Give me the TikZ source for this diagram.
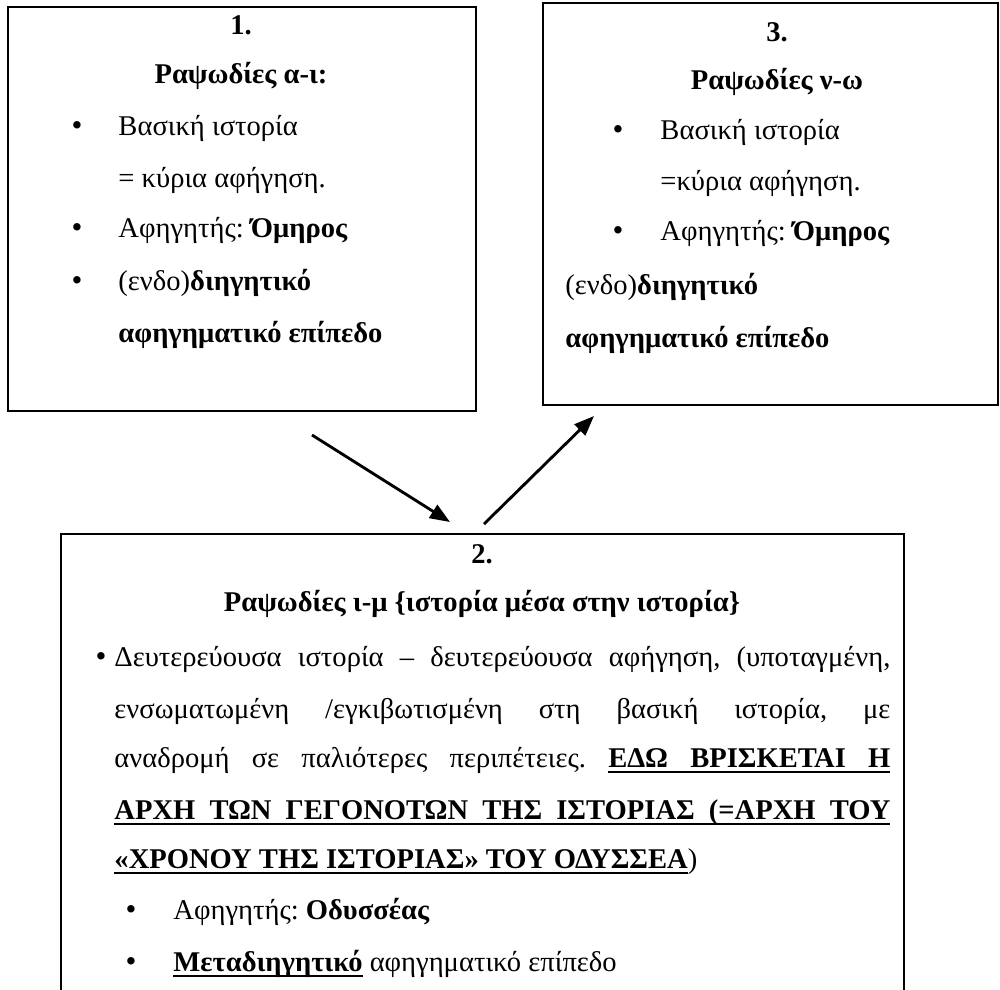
\documentclass[tikz,border=0pt]{standalone}
\usepackage{fontspec}
\setmainfont{Liberation Serif}
\usetikzlibrary{arrows.meta,positioning,fit}
\frenchspacing
% underlined word and underlined (stretchable) space
\newcommand{\ulw}[1]{\setbox0\hbox{#1}\rlap{\rule[-2.6pt]{\wd0}{1pt}}\box0}
\newcommand{\usp}{\leaders\hrule height -1.6pt depth 2.6pt\hskip 3pt plus 1.5pt minus 1pt\relax}

\begin{document}
\begin{tikzpicture}[x=0.42pt,y=-0.42pt,
  frame/.style={draw,inner sep=0pt},
  txt/.style={anchor=base west,inner sep=0pt,font=\fontsize{12}{21}\selectfont},
  ttl/.style={anchor=base,inner sep=0pt,font=\fontsize{12}{21}\selectfont\bfseries},
  dot/.style={anchor=base,inner sep=0pt,font=\fontsize{13}{21}\selectfont},
  arr/.style={-{Triangle[length=8.4pt,width=6.4pt]},line width=1.2pt}]
\useasboundingbox (0,0) rectangle (1000,989);
% the three boxes
\node[frame,line width=1.1pt,fit={(8,7) (476,411)}] (b1) {};
\node[frame,line width=0.8pt,fit={(543,3) (998,405)}] (b3) {};
\node[frame,line width=1pt,fit={(61,534) (904,1000)}] (b2) {};
% box 1
\node[ttl] (n1) at (241,34) {1.};
\node[ttl] (t1) at (241,83) {Ραψωδίες α-ι:};
\node[dot] (d11) at (77,135) {•};
\node[txt] (a11) at (118,135) {Βασική ιστορία};
\node[txt] (a12) at (118,187) {= κύρια αφήγηση.};
\node[dot] (d12) at (77,237) {•};
\node[txt] (a13) at (118,237) {Αφηγητής: \textbf{Όμηρος}};
\node[dot] (d13) at (77,290) {•};
\node[txt] (a14) at (118,290) {(ενδο)\textbf{διηγητικό}};
\node[txt] (a15) at (118,342) {\textbf{αφηγηματικό επίπεδο}};
% box 3
\node[ttl] (n3) at (777,41) {3.};
\node[ttl] (t3) at (777,89) {Ραψωδίες ν-ω};
\node[dot] (d31) at (618,139) {•};
\node[txt] (c11) at (660,139) {Βασική ιστορία};
\node[txt] (c12) at (660,190) {=κύρια αφήγηση.};
\node[dot] (d32) at (618,240) {•};
\node[txt] (c13) at (660,240) {Αφηγητής: \textbf{Όμηρος}};
\node[txt] (c14) at (565,294) {(ενδο)\textbf{διηγητικό}};
\node[txt] (c15) at (565,347) {\textbf{αφηγηματικό επίπεδο}};
% box 2
\node[ttl] (n2) at (482,563) {2.};
\node[ttl] (t2) at (482,611) {Ραψωδίες ι-μ \{ιστορία μέσα στην ιστορία\}};
\node[dot] (d21) at (101,666) {•};
\node[txt] (b21) at (114,666) {\makebox[325.9pt][s]{Δευτερεύουσα ιστορία – δευτερεύουσα αφήγηση, (υποταγμένη,}};
\node[txt] (b22) at (114,718) {\makebox[325.9pt][s]{ενσωματωμένη /εγκιβωτισμένη στη βασική ιστορία, με}};
\node[txt] (b23) at (114,767) {\makebox[325.9pt][s]{αναδρομή σε παλιότερες περιπέτειες. \textbf{\ulw{ΕΔΩ}\usp\ulw{ΒΡΙΣΚΕΤΑΙ}\usp\ulw{Η}}}};
\node[txt] (b24) at (114,819) {\makebox[325.9pt][s]{\bfseries\ulw{ΑΡΧΗ}\usp\ulw{ΤΩΝ}\usp\ulw{ΓΕΓΟΝΟΤΩΝ}\usp\ulw{ΤΗΣ}\usp\ulw{ΙΣΤΟΡΙΑΣ}\usp\ulw{(=ΑΡΧΗ}\usp\ulw{ΤΟΥ}}};
\node[txt] (b25) at (114,868) {\textbf{\ulw{«ΧΡΟΝΟΥ}\usp\ulw{ΤΗΣ}\usp\ulw{ΙΣΤΟΡΙΑΣ»}\usp\ulw{ΤΟΥ}\usp\ulw{ΟΔΥΣΣΕΑ}})};
\node[dot] (d22) at (131,919) {•};
\node[txt] (b26) at (173,919) {Αφηγητής: \textbf{Οδυσσέας}};
\node[dot] (d23) at (131,971) {•};
\node[txt] (b27) at (173,971) {\textbf{\ulw{Μεταδιηγητικό}} αφηγηματικό επίπεδο};
% arrows
\coordinate (s1) at (312,435);
\coordinate (e1) at (450,522);
\coordinate (s2) at (484,524);
\coordinate (e2) at (594,416);
\draw[arr] (s1) -- (e1);
\draw[arr] (s2) -- (e2);
\end{tikzpicture}
\end{document}
